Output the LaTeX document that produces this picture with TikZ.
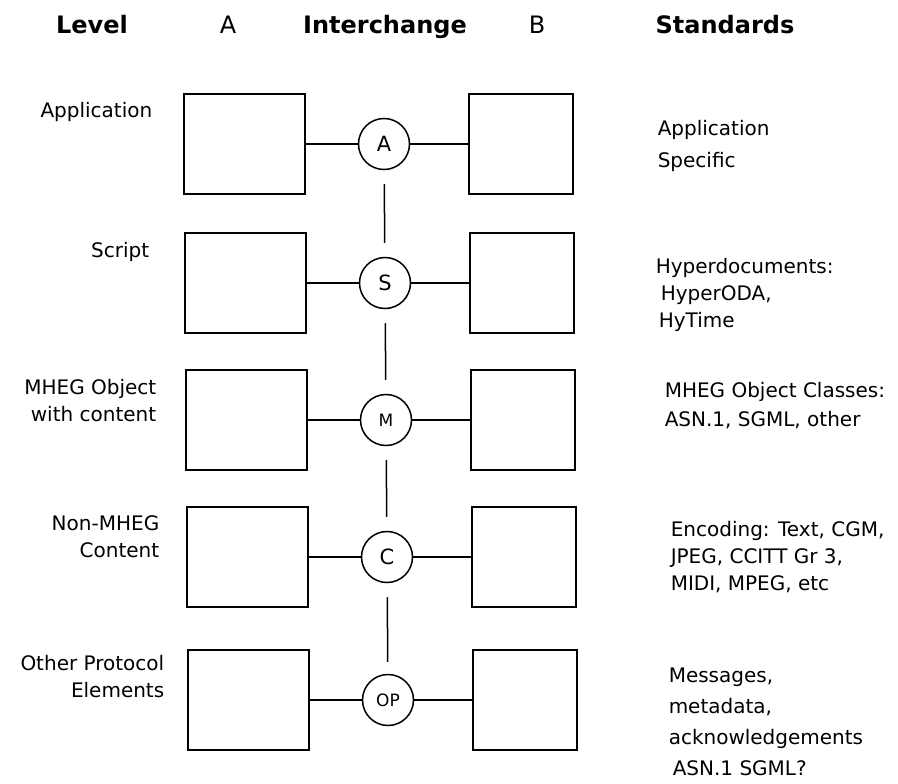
\documentclass[tikz,border=0pt]{standalone}
\usepackage{fontspec}
\setmainfont{DejaVu Sans}
\usetikzlibrary{positioning}

\begin{document}
\begin{tikzpicture}[x=1pt, y=-1pt, line width=1.5pt,
  every node/.style={font=\fontsize{20}{27}\selectfont, inner sep=0pt},
  head/.style={anchor=base, font=\fontsize{24}{27}\selectfont\bfseries},
  headlight/.style={anchor=base, font=\fontsize{24}{27}\selectfont},
  lbox/.style={draw, minimum width=121pt, minimum height=100pt},
  rbox/.style={draw, minimum width=104pt, minimum height=100pt},
  ichange/.style={draw, circle, minimum size=51pt, font=\fontsize{21}{22}\selectfont},
  smallmark/.style={font=\fontsize{17}{18}\selectfont},
  level/.style={anchor=east, align=right},
  stdtext/.style={anchor=west, align=left}]
  \useasboundingbox (0,0) rectangle (898,784);
  % column headings
  \node[head] (hlevel) at (92,34) {Level};
  \node[headlight] (ha) at (228,34) {A};
  \node[head] (hinter) at (385,34) {Interchange};
  \node[headlight] (hb) at (537,34) {B};
  \node[head] (hstd) at (725,34) {Standards};
  % interchange points
  \node[ichange] (app) at (384,144) {A};
  \node[ichange] (scr) at (385,283) {S};
  \node[ichange, smallmark] (obj) at (386,420) {\raisebox{-3pt}{M}};
  \node[ichange] (cnt) at (387,557) {C};
  \node[ichange, smallmark] (prot) at (388,700) {OP};
  % systems A and B
  \node[lbox, left=52pt of app] (app-a) {};
  \node[rbox, right=58pt of app] (app-b) {};
  \node[lbox, left=52pt of scr] (scr-a) {};
  \node[rbox, right=58pt of scr] (scr-b) {};
  \node[lbox, left=52pt of obj] (obj-a) {};
  \node[rbox, right=58pt of obj] (obj-b) {};
  \node[lbox, left=52pt of cnt] (cnt-a) {};
  \node[rbox, right=58pt of cnt] (cnt-b) {};
  \node[lbox, left=52pt of prot] (prot-a) {};
  \node[rbox, right=58pt of prot] (prot-b) {};
  % level names
  \node[level] (lapp) at (153,112) {Application};
  \node[level] (lscr) at (150,252) {Script};
  \node[level] (lobj) at (157,401) {MHEG Object\\with content};
  \node[level] (lcnt) at (160,537) {Non-MHEG\\Content};
  \node[level] (lprot) at (165,677) {Other Protocol\\Elements};
  % standards
  \node[stdtext, font=\fontsize{20}{32}\selectfont] (sapp) at (657,146) {Application\\Specific};
  \node[stdtext] (sscr) at (655,295) {Hyperdocuments:\\\hspace{5pt}HyperODA,\\\hspace{3pt}HyTime};
  \node[stdtext, font=\fontsize{20}{29}\selectfont] (sobj) at (664,406) {MHEG Object Classes:\\ASN.1, SGML, other};
  \node[stdtext] (scnt) at (670,557) {Encoding: Text, CGM,\\JPEG, CCITT Gr 3,\\MIDI, MPEG, etc};
  \node[stdtext, font=\fontsize{20}{31}\selectfont] (sprot) at (668,722) {Messages,\\metadata,\\acknowledgements\\\hspace{4pt}ASN.1 SGML?};
  % connections
  \draw (app-a) -- (app) -- (app-b);
  \draw (scr-a) -- (scr) -- (scr-b);
  \draw (obj-a) -- (obj) -- (obj-b);
  \draw (cnt-a) -- (cnt) -- (cnt-b);
  \draw (prot-a) -- (prot) -- (prot-b);
  \draw[shorten <=14pt, shorten >=14pt] (app) -- (scr);
  \draw[shorten <=14pt, shorten >=14pt] (scr) -- (obj);
  \draw[shorten <=14pt, shorten >=14pt] (obj) -- (cnt);
  \draw[shorten <=14pt, shorten >=12pt] (cnt) -- (prot);
\end{tikzpicture}
\end{document}
